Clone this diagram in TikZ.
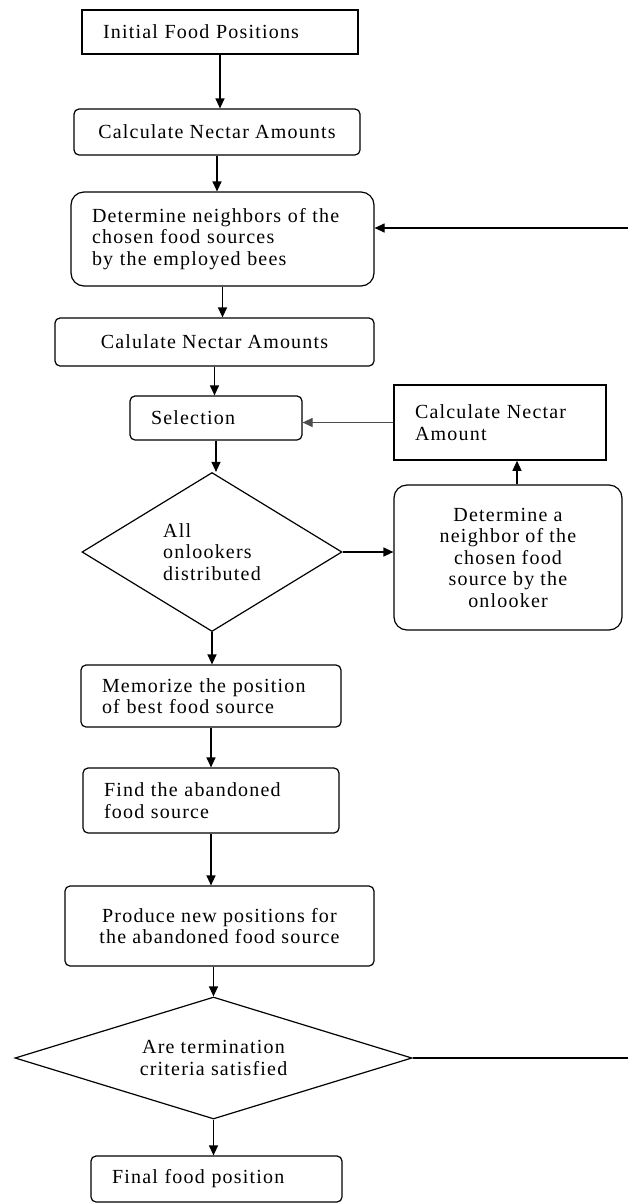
\documentclass[tikz,border=0pt]{standalone}
\usepackage{fontspec}
\setmainfont{Liberation Serif}[LetterSpace=6]
\usetikzlibrary{shapes.geometric,arrows.meta}

\tikzset{
  box/.style={draw, line width=1.2pt, font=\fontsize{20}{21.5}\selectfont, inner ysep=2pt},
  sharpbox/.style={box, line width=1.5pt},
  roundbox/.style={box, rounded corners=5pt},
  softbox/.style={box, rounded corners=13pt},
  lefttext/.style={align=left, inner xsep=21pt},
  midtext/.style={align=center, inner xsep=2pt},
  decision/.style={box, diamond, inner sep=0pt},
  arr/.style={-{Triangle[length=10pt,width=9pt]}, line width=1.2pt}
}

\begin{document}
\begin{tikzpicture}[x=1pt,y=-1pt]
  \useasboundingbox (0,0) rectangle (628,1203);

  % Main column of steps
  \node[sharpbox, lefttext, text width=234pt, minimum height=44pt] (init) at (220,32) {Initial Food Positions};
  \node[roundbox, midtext, minimum width=286pt, minimum height=46pt] (calc1) at (217,132) {Calculate Nectar Amounts};
  \node[softbox, lefttext, text width=261pt, minimum height=94pt] (neigh) at (222.5,239) {Determine neighbors of the\\chosen food sources\\by the employed bees};
  \node[roundbox, midtext, minimum width=319pt, minimum height=48pt] (calc2) at (214.5,342) {Calulate Nectar Amounts};
  \node[roundbox, lefttext, text width=130pt, minimum height=44pt] (select) at (216,418) {Selection};
  \node[decision, align=left, minimum width=260pt, minimum height=159pt] (dist) at (212,552) {All\\onlookers\\distributed};
  \node[roundbox, lefttext, text width=218pt, minimum height=62pt] (memo) at (211,696) {Memorize the position\\of best food source};
  \node[roundbox, lefttext, text width=214pt, minimum height=65pt] (aband) at (211,800.5) {Find the abandoned\\food source};
  \node[roundbox, midtext, minimum width=309pt, minimum height=80pt] (produce) at (219.5,926) {Produce new positions for\\the abandoned food source};
  \node[decision, align=center, shape aspect=3.25, minimum width=397pt, minimum height=122pt] (term) at (213.5,1058) {Are termination\\criteria satisfied};
  \node[roundbox, lefttext, text width=209pt, minimum height=46pt] (final) at (216.5,1179) {Final food position};

  % Onlooker branch
  \node[softbox, midtext, minimum width=228pt, minimum height=145pt] (onlook) at (508,557.5) {Determine a\\neighbor of the\\chosen food\\source by the\\onlooker};
  \node[sharpbox, lefttext, text width=170pt, minimum height=75pt] (calcOn) at (500,422.5) {Calculate Nectar\\Amount};

  % Loop ends at the right margin
  \coordinate (loopLow) at (628,1058);
  \coordinate (loopUp) at (628,228);

  % Downward arrows
  \foreach \a/\b in {init/calc1, calc1/neigh, neigh/calc2, calc2/select, select/dist, dist/memo, memo/aband, aband/produce, term/final} {
    \draw[arr] (\a) -- (\a |- \b.north);
  }
  \draw[arr] (produce.south -| term.north) -- (term.north);

  % Side arrows
  \draw[arr] (dist.east) -- (dist.east -| onlook.west);
  \draw[arr] ([xshift=9pt]onlook.north) -- ([xshift=9pt]onlook.north |- calcOn.south);
  \draw[arr, black!70] (calcOn.west) -- (calcOn.west -| select.east);
  \draw[line width=1.2pt] (term.east) -- (loopLow);
  \draw[arr] (loopUp) -- (loopUp -| neigh.east);
\end{tikzpicture}
\end{document}
